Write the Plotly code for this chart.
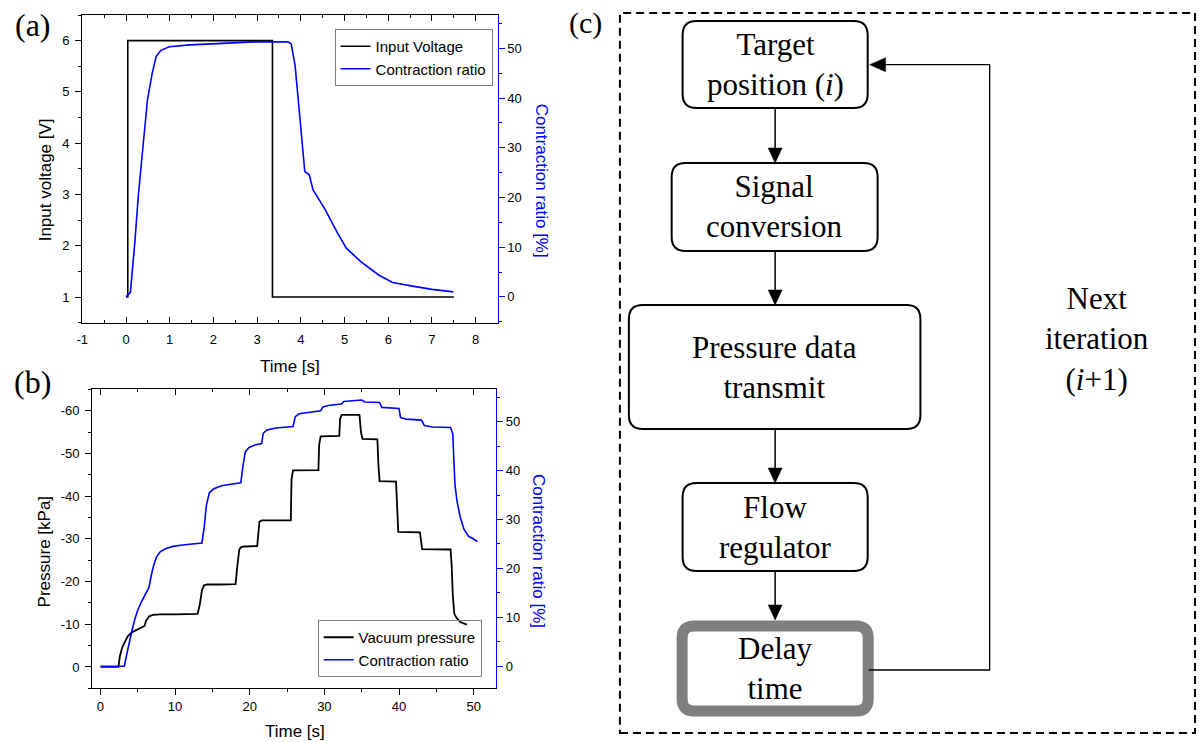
import plotly.graph_objects as go

W, H = 1202, 742


def fx(p):
    return p / W


def fy(p):
    return 1 - p / H


# ---------------- data: panel (a) ----------------
a_volt_t = [0, 0.04, 0.04, 3.35, 3.35, 7.5]
a_volt_v = [1, 1, 6, 6, 1, 1]
a_ratio_t = [0, 0.1, 0.2, 0.28, 0.38, 0.49, 0.6, 0.69, 0.8, 0.99, 1.46, 2.1, 2.93, 3.7,
             3.78, 3.87, 3.97, 4.09, 4.19, 4.28, 4.56, 4.84, 5.04, 5.37, 5.78, 6.1, 6.59, 7.0, 7.49]
a_ratio_v = [0, 0.9, 10.8, 20.2, 29.5, 39.6, 45.0, 48.4, 49.6, 50.3, 50.7, 51.0, 51.3, 51.3,
             50.9, 46.4, 36.3, 25.2, 24.6, 21.5, 17.5, 12.8, 9.8, 7.1, 4.4, 2.9, 2.1, 1.5, 1.0]
a_x_ticks = [-1, 0, 1, 2, 3, 4, 5, 6, 7, 8]
a_x_labels = ["-1", "0", "1", "2", "3", "4", "5", "6", "7", "8"]
a_y_ticks = [1, 2, 3, 4, 5, 6]
ratio_ticks = [0, 10, 20, 30, 40, 50]

# ---------------- data: panel (b) ----------------
b_press_t = [0, 2.4, 2.6, 2.9, 3.3, 3.7, 4.2, 4.8, 5.5, 5.9, 6.1, 6.5, 7.0, 8.0, 10.0, 13.0,
             13.3, 13.6, 13.9, 14.3, 16.0, 18.1, 18.3, 18.6, 18.9, 19.3, 21.0, 21.1, 21.3, 21.6,
             25.5, 25.6, 25.8, 29.2, 29.3, 29.5, 32.0, 32.1, 32.3, 34.7, 34.9, 35.1, 37.1, 37.25,
             37.4, 39.6, 39.75, 39.9, 42.8, 43.0, 43.1, 46.9, 47.05, 47.2, 47.4, 47.7, 48.2, 49.1]
b_press_v = [0, 0, -2.5, -4.5, -6.0, -7.3, -8.1, -8.7, -9.3, -9.6, -10.8, -11.8, -12.2, -12.3, -12.3, -12.4,
             -14.5, -18.0, -19.1, -19.3, -19.3, -19.4, -23.0, -27.5, -28.1, -28.2, -28.3, -31.0, -34.0, -34.3,
             -34.3, -44.0, -46.0, -46.1, -52.0, -54.0, -54.1, -58.0, -59.0, -59.0, -55.0, -53.4, -53.3, -47.0,
             -43.5, -43.4, -35.0, -31.6, -31.5, -29.0, -27.6, -27.5, -24.0, -17.0, -12.5, -11.5, -10.5, -9.9]
b_ratio_t = [0, 3.2, 3.5, 3.8, 4.2, 4.6, 5.0, 5.5, 6.0, 6.5, 6.8, 7.1, 7.5, 8.0, 8.7, 9.7, 11.0,
             12.5, 13.6, 13.9, 14.2, 14.6, 15.2, 16.2, 17.5, 18.8, 19.1, 19.4, 19.9, 20.7, 21.6,
             21.8, 22.3, 23.5, 25.8, 26.1, 26.6, 27.8, 29.5, 29.8, 30.5, 32.3, 32.6, 35.0, 35.4,
             37.4, 37.7, 40.0, 40.2, 41.0, 43.0, 43.4, 44.5, 46.9, 47.2, 47.35, 47.5, 47.8, 48.2,
             48.7, 49.3, 50.0, 50.5]
b_ratio_v = [0, 0, 2.3, 4.5, 7.2, 9.6, 11.5, 13.2, 14.6, 16.1, 18.5, 20.5, 22.3, 23.4, 24.0, 24.5, 24.8,
             25.0, 25.2, 28.5, 33.0, 35.5, 36.3, 36.9, 37.2, 37.5, 41.0, 43.8, 44.7, 45.2, 45.5,
             47.6, 48.3, 48.7, 49.0, 51.0, 51.6, 51.9, 52.2, 53.0, 53.3, 53.6, 54.1, 54.4, 54.0,
             53.9, 52.9, 52.7, 50.8, 50.5, 50.3, 49.2, 48.9, 48.8, 47.5, 42.0, 37.0, 33.5, 30.5,
             28.0, 26.6, 26.0, 25.5]
b_x_ticks = [0, 10, 20, 30, 40, 50]
b_y_ticks = [0, -10, -20, -30, -40, -50, -60]
b_y_labels = ["0", "-10", "-20", "-30", "-40", "-50", "-60"]

# ---------------- data: panel (c) ----------------
flow_labels = ["Target<br>position (<i>i</i>)", "Signal<br>conversion", "Pressure data<br>transmit",
               "Flow<br>regulator", "Delay<br>time"]
loop_label = "Next<br>iteration<br>(<i>i</i>+1)"

# ---------------- styles ----------------
SANS = "Liberation Sans"
SERIF = "Liberation Serif"
BLUE = "#0000ff"
tickfont = dict(family=SANS, size=13, color="black")

fig = go.Figure()
fig.add_trace(go.Scatter(x=a_volt_t, y=a_volt_v, name="Input Voltage", mode="lines",
                         line=dict(color="black", width=1.6), xaxis="x", yaxis="y", legend="legend"))
fig.add_trace(go.Scatter(x=a_ratio_t, y=a_ratio_v, name="Contraction ratio", mode="lines",
                         line=dict(color=BLUE, width=1.6), xaxis="x", yaxis="y3", legend="legend"))
fig.add_trace(go.Scatter(x=b_press_t, y=b_press_v, name="Vacuum pressure", mode="lines",
                         line=dict(color="black", width=1.8), xaxis="x2", yaxis="y2", legend="legend2"))
fig.add_trace(go.Scatter(x=b_ratio_t, y=b_ratio_v, name="Contraction ratio", mode="lines",
                         line=dict(color=BLUE, width=1.6), xaxis="x2", yaxis="y4", legend="legend2"))
fig.add_trace(go.Scatter(x=[None], y=[None], xaxis="x5", yaxis="y2", showlegend=False,
                         hoverinfo="skip", mode="lines"))

base = dict(showgrid=False, zeroline=False, showline=True, linecolor="black", linewidth=1.3,
            tickcolor="black", tickfont=tickfont, ticklen=6, tickwidth=1.2)

ax_a = (76.7, 494.0, 15.0, 322.7)
ax_b = (86.7, 492.5, 389.3, 688.3)

fig.update_layout(
    width=W, height=H, autosize=False,
    margin=dict(l=0, r=0, t=0, b=0),
    paper_bgcolor="white", plot_bgcolor="white",
    xaxis=dict(base, domain=[fx(ax_a[0]), fx(ax_a[1])], anchor="y", range=[-1, 8.5],
               tickmode="array", tickvals=a_x_ticks, ticktext=a_x_labels, ticks="inside",
               mirror="ticks", ticklabelstandoff=5,
               minor=dict(tickmode="linear", tick0=0, dtick=0.5, ticks="inside", ticklen=3,
                          tickcolor="black")),
    yaxis=dict(base, domain=[fy(ax_a[3]), fy(ax_a[2])], anchor="x", range=[0.5, 6.5],
               tickmode="array", tickvals=a_y_ticks, ticks="outside", ticklabelstandoff=3,
               minor=dict(tickmode="linear", tick0=0, dtick=0.5, ticks="outside", ticklen=3,
                          tickcolor="black")),
    yaxis3=dict(base, overlaying="y", side="right", anchor="x", range=[-5.2, 56.7],
                tickmode="array", tickvals=ratio_ticks, ticks="outside", linecolor=BLUE,
                tickcolor=BLUE,
                minor=dict(tickmode="linear", tick0=0, dtick=5, ticks="outside", ticklen=3,
                           tickcolor=BLUE)),
    xaxis2=dict(base, domain=[fx(ax_b[0]), fx(ax_b[1])], anchor="y2", range=[-1.1, 53],
                tickmode="array", tickvals=b_x_ticks, ticks="outside", mirror=True,
                minor=dict(tickmode="linear", tick0=0, dtick=5, ticks="outside", ticklen=3,
                           tickcolor="black")),
    xaxis5=dict(overlaying="x2", side="top", anchor="y2", range=[-1.1, 53], showgrid=False,
                zeroline=False, showline=False, showticklabels=False, tickmode="array",
                tickvals=b_x_ticks, ticks="inside", ticklen=6, tickwidth=1.2, tickcolor="black",
                minor=dict(tickmode="linear", tick0=0, dtick=5, ticks="inside", ticklen=3,
                           tickcolor="black")),
    yaxis2=dict(base, domain=[fy(ax_b[3]), fy(ax_b[2])], anchor="x2", range=[5, -65],
                tickmode="array", tickvals=b_y_ticks, ticktext=b_y_labels, ticks="outside",
                ticklabelstandoff=3,
                minor=dict(tickmode="linear", tick0=0, dtick=5, ticks="outside", ticklen=3,
                           tickcolor="black")),
    yaxis4=dict(base, overlaying="y2", side="right", anchor="x2", range=[-4.5, 56.6],
                tickmode="array", tickvals=ratio_ticks, ticks="outside", linecolor=BLUE,
                tickcolor=BLUE,
                minor=dict(tickmode="linear", tick0=0, dtick=5, ticks="outside", ticklen=3,
                           tickcolor=BLUE)),
    legend=dict(x=fx(489), y=fy(29), xanchor="right", yanchor="top", bgcolor="white",
                bordercolor="#808080", borderwidth=1, font=dict(family=SANS, size=15, color="black"),
                tracegroupgap=0, itemwidth=30),
    legend2=dict(x=fx(478), y=fy(677), xanchor="right", yanchor="bottom",
                 bgcolor="rgba(255,255,255,0)",
                 bordercolor="#808080", borderwidth=1, font=dict(family=SANS, size=15, color="black"),
                 tracegroupgap=0, itemwidth=30),
    showlegend=True,
)

annotations = []


def text(t, x, y, size, family=SANS, color="black", angle=0):
    annotations.append(dict(text=t, x=fx(x), y=fy(y), xref="paper", yref="paper",
                            showarrow=False, xanchor="center", yanchor="middle",
                            textangle=angle, font=dict(family=family, size=size, color=color)))


# axis titles
text("Input voltage [V]", 39.5, 180, 17, angle=-90)
text("Contraction ratio [%]", 538, 181, 17, color=BLUE, angle=90)
text("Time [s]", 285.5, 366, 17)
text("Pressure [kPa]", 38.6, 551, 17, angle=-90)
text("Contraction ratio [%]", 535.7, 551, 17, color=BLUE, angle=90)
text("Time [s]", 290, 731, 17)
# panel labels
text("(a)", 27, 25, 32, family=SERIF)
text("(b)", 27, 382, 32, family=SERIF)
text("(c)", 582, 23, 30, family=SERIF)

# ---------------- flowchart ----------------
shapes = []


def rounded(x0, y0, x1, y1, r):
    pts = [
        ("M", [(x0 + r, y0)]), ("L", [(x1 - r, y0)]), ("Q", [(x1, y0), (x1, y0 + r)]),
        ("L", [(x1, y1 - r)]), ("Q", [(x1, y1), (x1 - r, y1)]), ("L", [(x0 + r, y1)]),
        ("Q", [(x0, y1), (x0, y1 - r)]), ("L", [(x0, y0 + r)]), ("Q", [(x0, y0), (x0 + r, y0)]),
    ]
    s = ""
    for cmd, ps in pts:
        s += cmd + " " + " ".join(f"{fx(a):.6f},{fy(b):.6f}" for a, b in ps) + " "
    return s + "Z"


def poly(points, closed=True):
    s = "M " + " L ".join(f"{fx(a):.6f},{fy(b):.6f}" for a, b in points)
    return s + (" Z" if closed else "")


# dashed frame
shapes.append(dict(type="rect", xref="paper", yref="paper", x0=fx(617), x1=fx(1195), y0=fy(733),
                   y1=fy(13), line=dict(color="black", width=2, dash="8px,5px")))

boxes = [(680, 21, 866, 108), (669, 163, 876, 251), (626, 305, 919, 429), (680, 483, 866, 571),
         (679.5, 626, 866.5, 711)]
cx = 773
for i, (x0, y0, x1, y1) in enumerate(boxes):
    if i == 4:
        shapes.append(dict(type="path", xref="paper", yref="paper", path=rounded(x0, y0, x1, y1, 12),
                           line=dict(color="#7f7f7f", width=11), fillcolor="white"))
    else:
        shapes.append(dict(type="path", xref="paper", yref="paper", path=rounded(x0, y0, x1, y1, 14),
                           line=dict(color="black", width=2), fillcolor="white"))
    text(flow_labels[i], (x0 + x1) / 2, (y0 + y1) / 2, 31, family=SERIF)

# vertical arrows between boxes
arrow_ends = [(108, 163), (251, 305), (429, 483), (571, 620)]
for ys, ye in arrow_ends:
    shapes.append(dict(type="path", xref="paper", yref="paper", path=poly([(cx, ys), (cx, ye - 14)], False),
                       line=dict(color="black", width=1.5)))
    shapes.append(dict(type="path", xref="paper", yref="paper",
                       path=poly([(cx, ye), (cx - 7, ye - 15), (cx + 7, ye - 15)]),
                       line=dict(color="black", width=0.5), fillcolor="black"))

# feedback loop
shapes.append(dict(type="path", xref="paper", yref="paper",
                   path=poly([(867, 670), (988.6, 670), (988.6, 64.7), (882, 64.7)], False),
                   line=dict(color="black", width=1.3)))
shapes.append(dict(type="path", xref="paper", yref="paper",
                   path=poly([(868, 64.7), (884, 57.7), (884, 71.7)]),
                   line=dict(color="black", width=0.5), fillcolor="black"))

text(loop_label, 1096, 339, 31, family=SERIF)

fig.update_layout(shapes=shapes, annotations=annotations)
fig.write_html("out.html")
